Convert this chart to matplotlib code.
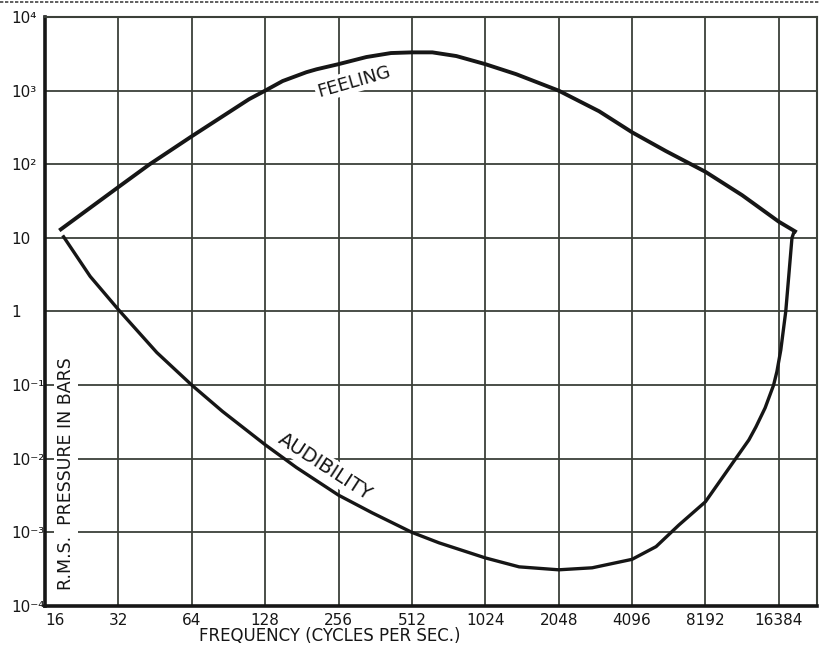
import matplotlib
matplotlib.use("Agg")
import matplotlib.pyplot as plt
from matplotlib.lines import Line2D
from matplotlib.ticker import NullLocator

# threshold of feeling (upper curve)
feel_freq = [18.3, 32, 43, 64, 110, 128, 151, 189, 208, 256, 333, 420, 512, 621, 779,
             1024, 1370, 2048, 3000, 4096, 5640, 8192, 11590, 16384, 19400]
feel_pres = [12.6, 49, 100, 240, 766, 1000, 1350, 1780, 1950, 2290, 2860, 3240, 3310,
             3310, 2950, 2290, 1675, 1000, 525, 272, 151, 79, 38, 16.6, 11.9]

# threshold of audibility (lower curve)
aud_freq = [18.9, 24.5, 32, 46, 64, 85.5, 128, 172, 256, 352, 512, 662, 1024, 1410,
            2048, 2810, 4096, 5140, 6380, 8192, 10900, 12350, 13200, 14400, 15600,
            16100, 16700, 17500, 18000, 18560, 18900]
aud_pres = [10.8, 3.0, 1.06, 0.277, 0.1, 0.044, 0.0155, 0.0076, 0.0032, 0.00184, 0.001,
            7.2e-4, 4.5e-4, 3.4e-4, 3.1e-4, 3.3e-4, 4.3e-4, 6.4e-4, 1.26e-3, 2.6e-3,
            0.01, 0.018, 0.027, 0.049, 0.1, 0.153, 0.30, 1.0, 3.0, 10, 11.9]

x_ticks = [16, 32, 64, 128, 256, 512, 1024, 2048, 4096, 8192, 16384]
y_ticks = [1e-4, 1e-3, 1e-2, 1e-1, 1, 10, 1e2, 1e3, 1e4]
y_labels = ["10⁻⁴", "10⁻³", "10⁻²", "10⁻¹", "1", "10", "10²", "10³", "10⁴"]

ink = "#161616"
grid_col = "#3b4039"

fig = plt.figure(figsize=(8.19, 6.47), dpi=100)
ax = fig.add_axes([0.055, 0.0634, 0.9425, 0.9103])

ax.set_xscale("log", base=2)
ax.set_yscale("log")
ax.set_xlim(16, 23500)
ax.set_ylim(1e-4, 1e4)

ax.plot(feel_freq, feel_pres, color=ink, lw=2.8, solid_capstyle="butt",
        solid_joinstyle="round", zorder=4)
ax.plot(aud_freq, aud_pres, color=ink, lw=2.4, solid_capstyle="butt",
        solid_joinstyle="round", zorder=4)

ax.set_xticks(x_ticks)
ax.set_xticklabels([str(v) for v in x_ticks])
ax.set_yticks(y_ticks)
ax.set_yticklabels(y_labels)
ax.xaxis.set_minor_locator(NullLocator())
ax.yaxis.set_minor_locator(NullLocator())

ax.grid(True, which="major", color=grid_col, lw=1.3)
ax.set_axisbelow(True)
ax.tick_params(axis="x", length=0, pad=5, labelsize=11, colors=ink)
ax.tick_params(axis="y", length=0, pad=24, labelsize=11, colors=ink)
for lab in ax.get_yticklabels():
    lab.set_horizontalalignment("left")
ax.get_xticklabels()[0].set_horizontalalignment("left")

for side in ["left", "bottom"]:
    ax.spines[side].set_linewidth(2.6)
    ax.spines[side].set_color(ink)
for side in ["top", "right"]:
    ax.spines[side].set_linewidth(1.5)
    ax.spines[side].set_color(grid_col)

box = dict(facecolor="white", edgecolor="none", pad=1.5)
ax.text(296, 1330, "FEELING", rotation=16, fontsize=13, ha="center", va="center",
        color=ink, bbox=box, zorder=3)
ax.text(226, 0.0078, "AUDIBILITY", rotation=-33, fontsize=14, ha="center",
        va="center", color=ink, bbox=box, zorder=3)
ax.text(0.027, 0.224, "R.M.S.  PRESSURE IN BARS", transform=ax.transAxes,
        rotation=90, fontsize=12.5, ha="center", va="center", color=ink,
        bbox=dict(facecolor="white", edgecolor="none", pad=2), zorder=3)

fig.text(0.403, 0.017, "FREQUENCY (CYCLES PER SEC.)", fontsize=12, ha="center",
         va="center", color=ink)

# ragged dotted edge along the top of the sheet
fig.add_artist(Line2D([0.0, 1.0], [0.997, 0.997], transform=fig.transFigure,
                      color="#444444", lw=1.2, linestyle=(0, (2, 1))))

fig.savefig("out.png", dpi=100, facecolor="white")
